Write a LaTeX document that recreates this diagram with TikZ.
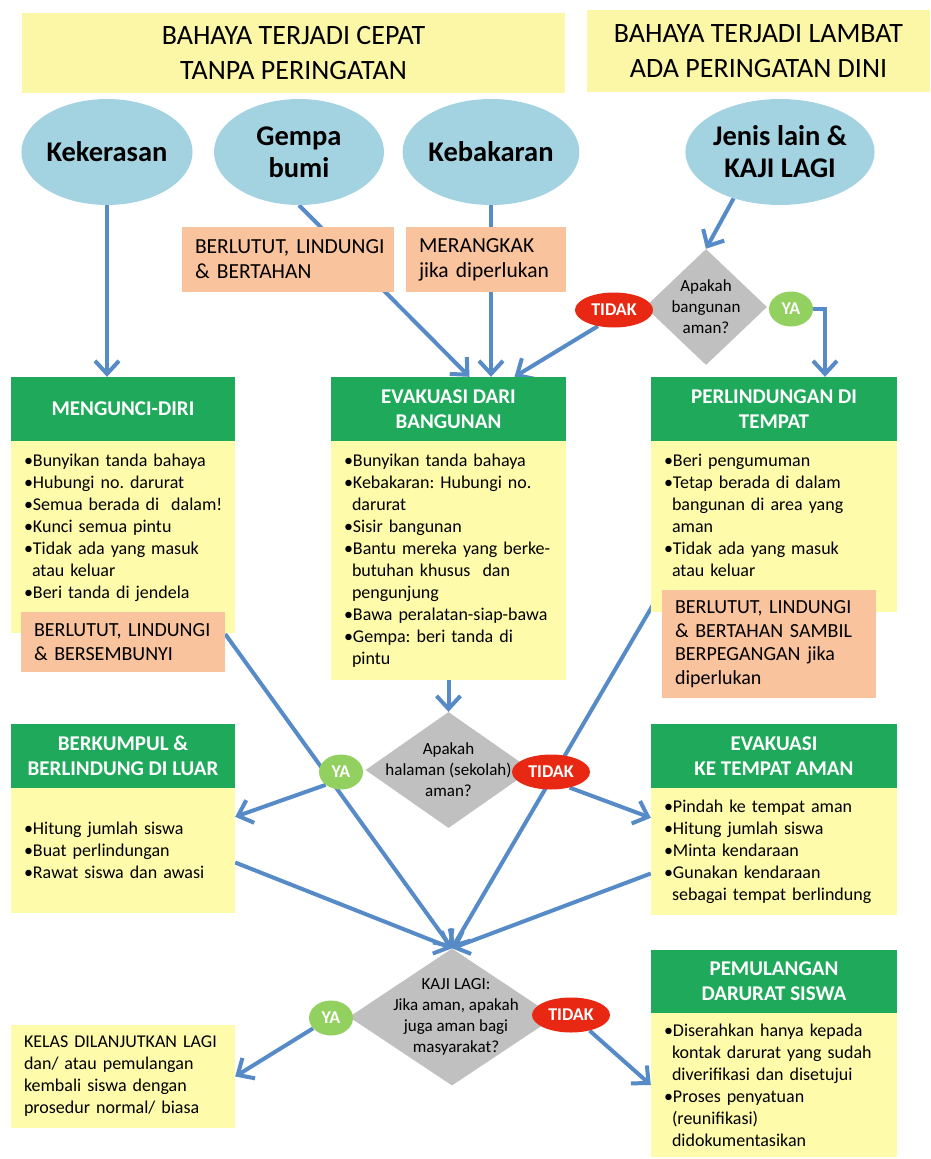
\documentclass[tikz,border=0pt]{standalone}
\usepackage{fontspec}
\setmainfont{Carlito}
\usetikzlibrary{shapes.geometric,arrows.meta,backgrounds}
\frenchspacing
\definecolor{hdryellow}{RGB}{252,247,166}
\definecolor{listyellow}{RGB}{254,251,170}
\definecolor{hazblue}{RGB}{163,210,224}
\definecolor{actgreen}{RGB}{30,170,90}
\definecolor{tiporange}{RGB}{249,195,157}
\definecolor{askgrey}{RGB}{192,192,192}
\definecolor{nored}{RGB}{232,40,18}
\definecolor{yesgreen}{RGB}{146,208,96}
\definecolor{flowblue}{RGB}{86,139,200}
\begin{document}
\begin{tikzpicture}[x=1pt,y=-1pt,
    hdr/.style={fill=hdryellow,align=center,inner sep=0pt,font=\fontsize{28}{35}\selectfont},
    hazard/.style={ellipse,fill=hazblue,minimum width=170pt,minimum height=106pt,inner sep=0pt,align=center,font=\fontsize{28.5}{32}\selectfont\bfseries},
    act/.style={fill=actgreen,text=white,align=center,inner sep=0pt,font=\fontsize{21}{25}\selectfont\bfseries},
    todo/.style={fill=listyellow,align=left,inner xsep=13pt,inner ysep=0pt,font=\fontsize{18}{22}\selectfont},
    tipbox/.style={fill=tiporange,align=left,inner xsep=13pt,inner ysep=0pt,font=\fontsize{20}{23.5}\selectfont},
    ask/.style={diamond,fill=askgrey,inner sep=0pt},
    asktext/.style={align=center,font=\fontsize{17}{21}\selectfont},
    nobadge/.style={ellipse,fill=nored,text=white,inner sep=0pt,minimum width=78pt,minimum height=35pt,font=\fontsize{18}{20}\selectfont\bfseries},
    yesbadge/.style={ellipse,fill=yesgreen,text=white,inner sep=0pt,minimum width=44pt,minimum height=35pt,font=\fontsize{18}{20}\selectfont\bfseries},
    link/.style={draw=flowblue,line width=4pt},
    flow/.style={link,-{Straight Barb[length=13pt,width=24pt]}}]
  \useasboundingbox (0,0) rectangle (930,1159);
  % headers
  \node[hdr,minimum width=543pt,minimum height=80pt] (hdrfast) at (293.5,53) {BAHAYA TERJADI CEPAT\\TANPA PERINGATAN};
  \node[hdr,minimum width=343pt,minimum height=82pt] (hdrslow) at (758.5,51) {BAHAYA TERJADI LAMBAT\\ADA PERINGATAN DINI};
  % hazards
  \node[hazard] (kek) at (107,152) {Kekerasan};
  \node[hazard] (gem) at (299,152) {Gempa\\bumi};
  \node[hazard] (keb) at (491,152) {Kebakaran};
  \node[hazard] (jen) at (780,152) {Jenis lain \&\\KAJI LAGI};
  % first tips
  \node[tipbox,font=\fontsize{21.5}{25}\selectfont,minimum width=212pt,minimum height=65pt,text width=186pt] (kneel) at (288,259.5) {\mbox{BERLUTUT, LINDUNGI}\\\& BERTAHAN};
  \node[tipbox,font=\fontsize{21.5}{25}\selectfont,minimum width=160pt,minimum height=65pt,text width=134pt] (crawl) at (486,259.5) {MERANGKAK\\jika diperlukan};
  % building safe?
  \node[ask,minimum width=122pt,minimum height=116pt,label={[asktext]center:{Apakah\\bangunan\\aman?}}] (askbld) at (706,307) {};
  \node[nobadge] (askbldno) at (614,310) {TIDAK};
  \node[yesbadge] (askbldyes) at (791,309) {YA};
  % lockdown
  \node[act,minimum width=224pt,minimum height=64pt] (lockT) at (123,409) {MENGUNCI-DIRI};
  \node[todo,minimum width=224pt,minimum height=192pt,text width=198pt] (lockL) at (123,537) {%
    •Bunyikan tanda bahaya\\•Hubungi no. darurat\\\mbox{•Semua berada di\ \ dalam!}\\•Kunci semua pintu\\%
    •Tidak ada yang masuk\\\hspace*{8pt}atau keluar\\•Beri tanda di jendela\\\mbox{}};
  \node[tipbox,minimum width=204pt,minimum height=60pt,text width=178pt] (lockK) at (123,642) {\mbox{BERLUTUT, LINDUNGI}\\\& BERSEMBUNYI};
  % evacuate building
  \node[act,minimum width=235pt,minimum height=64pt] (evacT) at (448.5,409) {EVAKUASI DARI\\BANGUNAN};
  \node[todo,minimum width=235pt,minimum height=239pt,text width=209pt] (evacL) at (448.5,560.5) {%
    •Bunyikan tanda bahaya\\•Kebakaran: Hubungi no.\\\hspace*{8pt}darurat\\•Sisir bangunan\\%
    \mbox{•Bantu mereka yang berke-}\\\hspace*{8pt}butuhan khusus\ \ dan\\\hspace*{8pt}pengunjung\\%
    \mbox{•Bawa peralatan-siap-bawa}\\•Gempa: beri tanda di\\\hspace*{8pt}pintu};
  % shelter in place
  \node[act,minimum width=246pt,minimum height=64pt] (shelT) at (774,409) {PERLINDUNGAN DI\\TEMPAT};
  \node[todo,minimum width=246pt,minimum height=171pt,text width=220pt] (shelL) at (774,526.5) {%
    •Beri pengumuman\\•Tetap berada di dalam\\\hspace*{8pt}bangunan di area yang\\\hspace*{8pt}aman\\%
    •Tidak ada yang masuk\\\hspace*{8pt}atau keluar\\\mbox{}};
  \node[tipbox,minimum width=214pt,minimum height=108pt,text width=188pt] (shelK) at (769,644) {%
    \mbox{BERLUTUT, LINDUNGI}\\\mbox{\& BERTAHAN SAMBIL}\\BERPEGANGAN jika\\diperlukan};
  % yard safe?
  \node[ask,minimum width=166pt,minimum height=116pt,label={[asktext]center:{Apakah\\halaman (sekolah)\\aman?}}] (askyard) at (448.5,770) {};
  \node[yesbadge] (askyardyes) at (341,772) {YA};
  \node[nobadge] (askyardno) at (551,772) {TIDAK};
  % gather outside
  \node[act,minimum width=224pt,minimum height=64pt] (outT) at (123,756) {BERKUMPUL \&\\BERLINDUNG DI LUAR};
  \node[todo,minimum width=224pt,minimum height=125pt,text width=198pt] (outL) at (123,850.5) {%
    •Hitung jumlah siswa\\•Buat perlindungan\\•Rawat siswa dan awasi};
  % evacuate to safe place
  \node[act,minimum width=246pt,minimum height=64pt] (awayT) at (774,756) {EVAKUASI\\KE TEMPAT AMAN};
  \node[todo,minimum width=246pt,minimum height=127pt,text width=220pt] (awayL) at (774,851.5) {%
    •Pindah ke tempat aman\\•Hitung jumlah siswa\\•Minta kendaraan\\•Gunakan kendaraan\\%
    \hspace*{8pt}\mbox{sebagai tempat berlindung}};
  % review again
  \node[ask,minimum width=206pt,minimum height=137pt,label={[asktext,xshift=4pt]center:{KAJI LAGI:\\Jika aman, apakah\\juga aman bagi\\masyarakat?}}] (askcom) at (452,1017) {};
  \node[yesbadge] (askcomyes) at (331,1018) {YA};
  \node[nobadge] (askcomno) at (571,1015) {TIDAK};
  \node[todo,minimum width=224pt,minimum height=103pt,text width=198pt] (resume) at (123,1076.5) {%
    \mbox{KELAS DILANJUTKAN LAGI}\\dan/ atau pemulangan\\kembali siswa dengan\\prosedur normal/ biasa};
  \node[act,minimum width=246pt,minimum height=63pt] (homeT) at (774,981.5) {PEMULANGAN\\DARURAT SISWA};
  \node[todo,minimum width=246pt,minimum height=144pt,text width=220pt] (homeL) at (774,1085) {%
    •Diserahkan hanya kepada\\\hspace*{8pt}\mbox{kontak darurat yang sudah}\\\hspace*{8pt}\mbox{diverifikasi dan disetujui}\\%
    •Proses penyatuan\\\hspace*{8pt}(reunifikasi)\\\hspace*{8pt}didokumentasikan};
  % connectors
  \begin{pgfonlayer}{background}
    \draw[flow] (kek.south) -- (kek.south |- lockT.north);
    \draw[flow] (gem.south) -- ([xshift=21pt]evacT.north); % behind kneel
    \draw[flow] (keb.south) -- (keb.south |- evacT.north); % behind crawl
    \draw[flow] (jen.225) -- (askbld.north);
    \draw[flow] (askbldno.225) -- ([xshift=66pt]evacT.north);
    \draw[flow] (askbldyes.east) -| ([xshift=51pt]shelT.north);
    \draw[flow] (evacL.south) -- (askyard.north);
    \draw[flow] (askyardyes.220) -- ([yshift=-29pt]outL.north east);
    \draw[flow] (askyardno.-40) -- ([yshift=-30pt]awayL.north west);
    \draw[flow] ([yshift=8pt]lockK.east) -- (askcom.north);
    \draw[flow] ([yshift=-12pt]outL.east) -- (askcom.north);
    \draw[flow] ([yshift=-22pt]awayL.west) -- (askcom.north);
    \draw[flow] (shelK.north west) -- (askcom.north);
    \draw[flow] (askcomyes.210) -- (resume.east);
    \draw[flow] (askcomno.-40) -- (homeL.west);
  \end{pgfonlayer}
\end{tikzpicture}
\end{document}
